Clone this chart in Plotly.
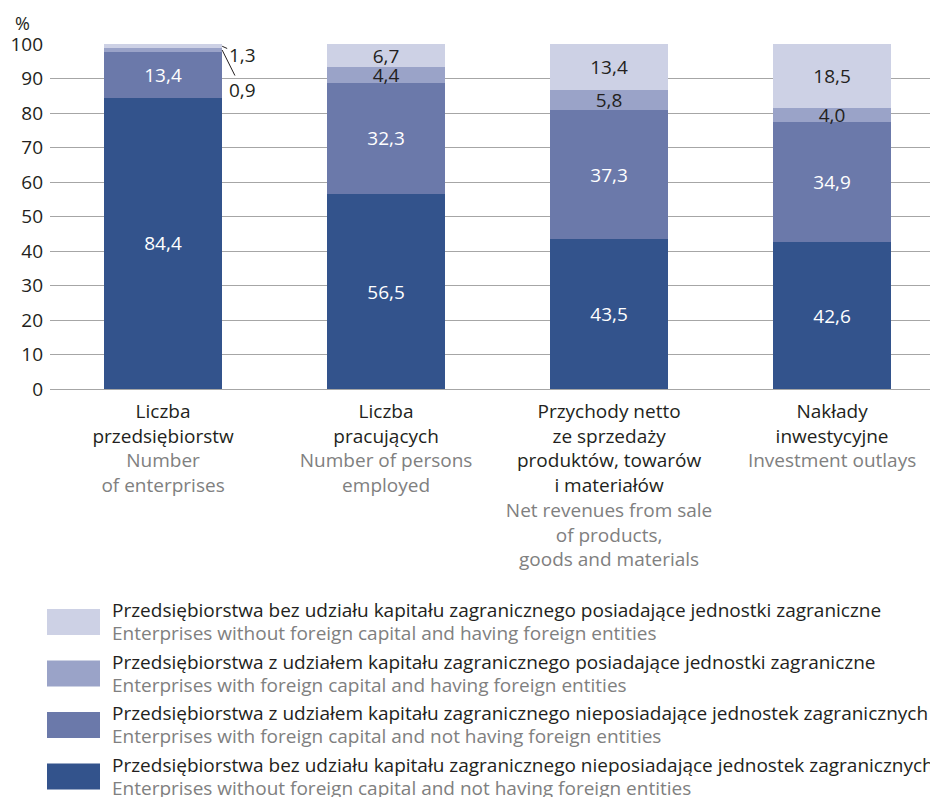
import plotly.graph_objects as go

categories_pl = ["Liczba<br>przedsiębiorstw", "Liczba<br>pracujących",
                 "Przychody netto<br>ze sprzedaży<br>produktów, towarów<br>i materiałów",
                 "Nakłady<br>inwestycyjne"]
categories_en = ["Number<br>of enterprises", "Number of persons<br>employed",
                 "Net revenues from sale<br>of products,<br>goods and materials",
                 "Investment outlays"]

s_without_not = [84.4, 56.5, 43.5, 42.6]
s_with_not = [13.4, 32.3, 37.3, 34.9]
s_with_having = [0.9, 4.4, 5.8, 4.0]
s_without_having = [1.3, 6.7, 13.4, 18.5]

names_pl = [
    "Przedsiębiorstwa bez udziału kapitału zagranicznego posiadające jednostki zagraniczne",
    "Przedsiębiorstwa z udziałem kapitału zagranicznego posiadające jednostki zagraniczne",
    "Przedsiębiorstwa z udziałem kapitału zagranicznego nieposiadające jednostek zagranicznych",
    "Przedsiębiorstwa bez udziału kapitału zagranicznego nieposiadające jednostek zagranicznych",
]
names_en = [
    "Enterprises without foreign capital and having foreign entities",
    "Enterprises with foreign capital and having foreign entities",
    "Enterprises with foreign capital and not having foreign entities",
    "Enterprises without foreign capital and not having foreign entities",
]

FONT = "Open Sans"
FS = 19
C_DARK = "#33538c"
C_MID = "#6b79aa"
C_LMID = "#9aa3c8"
C_LIGHT = "#cdd1e5"
TXT = "#231f20"
GRAY = "#808080"

# page body has an 8px margin: figure is drawn 8px in from the window corner
OFF = 8
W, H = 938 - OFF, 797 - OFF
pl_left, pl_w = 50 - OFF, 888
pt_top, pt_h = 44 - OFF, 345


def fmt(v):
    return f"{v:.1f}".replace(".", ",")


def px_to_paper(px, py):
    px -= OFF
    py -= OFF
    return (px - pl_left) / pl_w, 1 - (py - pt_top) / pt_h


x = list(range(len(categories_pl)))
fig = go.Figure()

series = [
    (s_without_not, C_DARK, "white", names_pl[3], True),
    (s_with_not, C_MID, "white", names_pl[2], True),
    (s_with_having, C_LMID, TXT, names_pl[1], False),
    (s_without_having, C_LIGHT, TXT, names_pl[0], False),
]
for vals, col, tcol, nm, all_inside in series:
    texts = [fmt(v) for v in vals]
    if not all_inside:
        texts[0] = ""
    fig.add_trace(go.Bar(
        x=x, y=vals, name=nm, marker=dict(color=col, line=dict(width=0)),
        width=0.53, text=texts, textposition="inside", insidetextanchor="middle",
        constraintext="none", textangle=0,
        textfont=dict(family=FONT, size=FS, color=tcol), showlegend=False,
    ))

# outside labels for first category small segments
top_light = s_without_not[0] + s_with_not[0] + s_with_having[0]
fig.add_annotation(x=0.265, y=top_light + s_without_having[0] / 2, xref="x", yref="y",
                   text=fmt(s_without_having[0]), showarrow=True, arrowhead=0,
                   arrowwidth=1, arrowcolor=TXT, ax=20, ay=9, standoff=0,
                   font=dict(family=FONT, size=FS, color=TXT))
fig.add_annotation(x=0.265, y=s_without_not[0] + s_with_not[0] + s_with_having[0] / 2,
                   xref="x", yref="y",
                   text=fmt(s_with_having[0]), showarrow=True, arrowhead=0,
                   arrowwidth=1, arrowcolor=TXT, ax=20, ay=40, standoff=0,
                   font=dict(family=FONT, size=FS, color=TXT))

ticktext = [f"{pl}<br><span style='color:{GRAY}'>{en}</span>" for pl, en in zip(categories_pl, categories_en)]

fig.update_layout(
    width=W, height=H,
    margin=dict(l=pl_left, r=0, t=pt_top, b=H - pt_top - pt_h),
    plot_bgcolor="white", paper_bgcolor="white",
    barmode="stack",
    font=dict(family=FONT, size=FS, color=TXT),
    xaxis=dict(tickmode="array", tickvals=x, ticktext=ticktext, range=[-0.507, 3.475],
               showgrid=False, ticks="", showline=False, zeroline=False,
               ticklabelstandoff=9,
               tickfont=dict(family=FONT, size=FS, color=TXT)),
    yaxis=dict(range=[0, 100], dtick=10, showgrid=True, gridcolor="#a6a6a6", gridwidth=1,
               zeroline=True, zerolinecolor="#a6a6a6", zerolinewidth=1,
               ticks="", ticklabelstandoff=6,
               tickfont=dict(family=FONT, size=FS, color=TXT), showline=False),
)

xp, yp = px_to_paper(22, 9)
fig.add_annotation(x=xp, y=yp, xref="paper", yref="paper", text="%", showarrow=False,
                   font=dict(family=FONT, size=18, color=TXT), xanchor="center", yanchor="top")

legend_colors = [C_LIGHT, C_LMID, C_MID, C_DARK]
for i in range(4):
    y0 = 609 + i * 51.5
    x0p, y0p = px_to_paper(47, y0)
    x1p, y1p = px_to_paper(100, y0 + 26)
    fig.add_shape(type="rect", xref="paper", yref="paper", x0=x0p, x1=x1p, y0=y1p, y1=y0p,
                  fillcolor=legend_colors[i], line=dict(width=0))
    tx, ty1 = px_to_paper(110, y0 + 1)
    _, ty2 = px_to_paper(110, y0 + 24)
    fig.add_annotation(x=tx, y=ty1, xref="paper", yref="paper", text=names_pl[i],
                       showarrow=False, xanchor="left", yanchor="middle",
                       font=dict(family=FONT, size=FS, color=TXT))
    fig.add_annotation(x=tx, y=ty2, xref="paper", yref="paper", text=names_en[i],
                       showarrow=False, xanchor="left", yanchor="middle",
                       font=dict(family=FONT, size=FS, color=GRAY))

fig.write_html("out.html")
